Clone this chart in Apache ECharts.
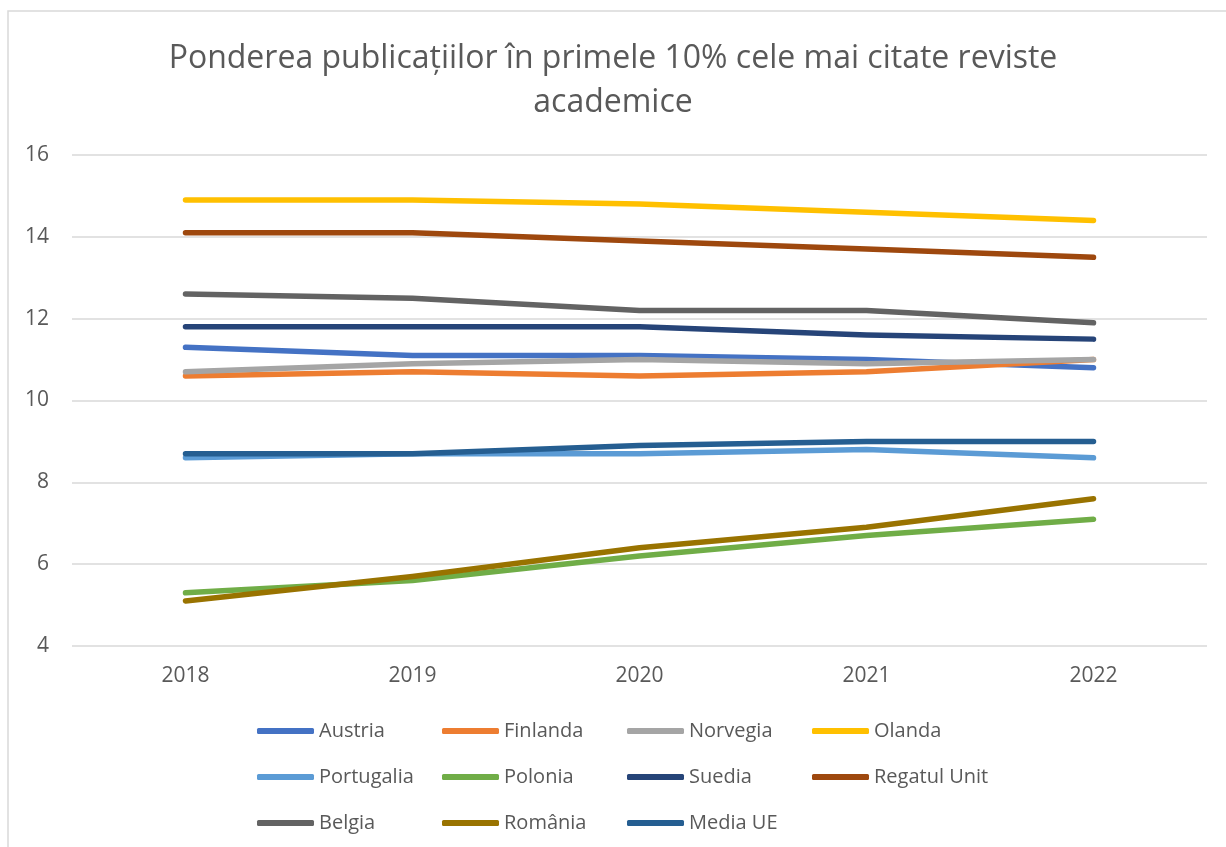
<!DOCTYPE html>
<html>
<head>
<meta charset="utf-8">
<script src="https://cdn.jsdelivr.net/npm/echarts@6/dist/echarts.min.js"></script>
<style>
  html, body { margin: 0; padding: 0; background: #fff; }
  #main { width: 1226px; height: 847px; }
</style>
</head>
<body>
<div id="main"></div>
<script>
  // date
  var years = ["2018", "2019", "2020", "2021", "2022"];
  var austria = [11.3, 11.1, 11.1, 11.0, 10.8];
  var finlanda = [10.6, 10.7, 10.6, 10.7, 11.0];
  var norvegia = [10.7, 10.9, 11.0, 10.9, 11.0];
  var olanda = [14.9, 14.9, 14.8, 14.6, 14.4];
  var portugalia = [8.6, 8.7, 8.7, 8.8, 8.6];
  var polonia = [5.3, 5.6, 6.2, 6.7, 7.1];
  var suedia = [11.8, 11.8, 11.8, 11.6, 11.5];
  var regatulUnit = [14.1, 14.1, 13.9, 13.7, 13.5];
  var belgia = [12.6, 12.5, 12.2, 12.2, 11.9];
  var romania = [5.1, 5.7, 6.4, 6.9, 7.6];
  var mediaUE = [8.7, 8.7, 8.9, 9.0, 9.0];

  var names = ["Austria", "Finlanda", "Norvegia", "Olanda", "Portugalia", "Polonia",
               "Suedia", "Regatul Unit", "Belgia", "România", "Media UE"];
  var values = [austria, finlanda, norvegia, olanda, portugalia, polonia,
                suedia, regatulUnit, belgia, romania, mediaUE];
  var colors = ["#4472C4", "#ED7D31", "#A5A5A5", "#FFC000", "#5B9BD5", "#70AD47",
                "#264478", "#9E480E", "#636363", "#997300", "#255E91"];

  // coloanele legendei
  var legendCols = [
    ["Austria", "Portugalia", "Belgia"],
    ["Finlanda", "Polonia", "România"],
    ["Norvegia", "Suedia", "Media UE"],
    ["Olanda", "Regatul Unit"]
  ];
  var legendLeft = [257, 442, 627, 812];

  var font = "'Open Sans', 'Noto Sans', sans-serif";
  var textColor = "#595959";

  var myChart = echarts.init(document.getElementById("main"));

  var option = {
    color: colors,
    animation: false,
    title: {
      text: "Ponderea publicațiilor în primele 10% cele mai citate reviste\nacademice",
      left: "center",
      top: 32,
      textStyle: {
        fontFamily: font,
        fontWeight: "normal",
        fontSize: 32,
        lineHeight: 44,
        color: textColor,
        align: "center"
      }
    },
    legend: legendCols.map(function(col, i) {
      return {
        data: col,
        orient: "vertical",
        left: legendLeft[i],
        top: 721,
        padding: 0,
        icon: "roundRect",
        itemWidth: 57,
        itemHeight: 6,
        itemGap: 26,
        selectedMode: false,
        textStyle: {
          fontFamily: font,
          fontSize: 20,
          lineHeight: 20,
          color: textColor
        }
      };
    }),
    grid: {
      left: 72,
      right: 19,
      top: 155,
      bottom: 201,
      containLabel: false
    },
    xAxis: {
      type: "category",
      data: years,
      axisLine: { show: false },
      axisTick: { show: false },
      axisLabel: {
        margin: 20,
        fontFamily: font,
        fontSize: 21,
        color: textColor
      }
    },
    yAxis: {
      type: "value",
      min: 4,
      max: 16,
      interval: 2,
      axisLine: { show: false },
      axisTick: { show: false },
      axisLabel: {
        margin: 23,
        fontFamily: font,
        fontSize: 21,
        color: textColor
      },
      splitLine: {
        lineStyle: { color: "#D9D9D9", width: 1.5 }
      }
    },
    series: names.map(function(name, i) {
      return {
        name: name,
        type: "line",
        data: values[i],
        symbol: "none",
        lineStyle: { width: 5.5, cap: "round", join: "round" },
        z: 2 + i
      };
    }),
    graphic: [
      {
        type: "polyline",
        shape: { points: [[8, 860], [8, 11], [1240, 11]] },
        style: { stroke: "#D9D9D9", lineWidth: 1.5, fill: null },
        silent: true
      }
    ]
  };

  myChart.setOption(option);
  window.addEventListener("resize", function() {
    myChart.resize();
  });
</script>
</body>
</html>
